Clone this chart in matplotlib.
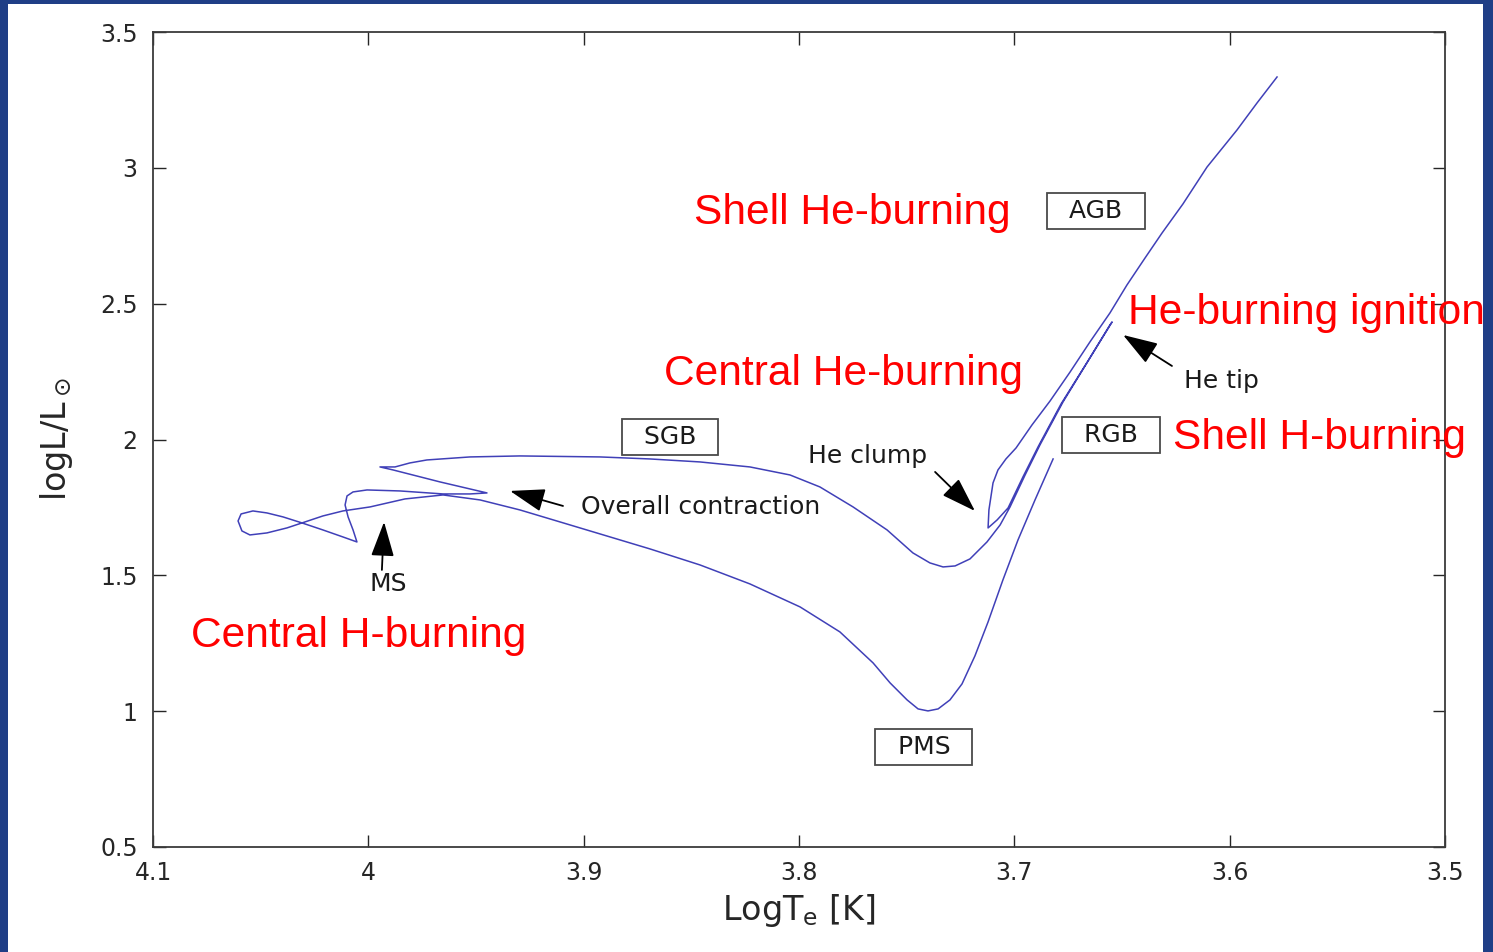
import matplotlib
matplotlib.use("Agg")
import matplotlib.pyplot as plt
from matplotlib.patches import Rectangle

# ---- evolutionary track of a low-mass star (log Teff, log L/Lsun), by phase ----
pms_logT = [3.6820, 3.6904, 3.6983, 3.7053, 3.7122, 3.7183, 3.7243, 3.7299, 3.7354,
            3.7401, 3.7447, 3.7498, 3.7577, 3.7656, 3.7810, 3.7995, 3.8228, 3.8460,
            3.8692, 3.8924, 3.9110, 3.9296, 3.9481, 3.9653, 3.9830, 3.9992, 4.0118,
            4.0211, 4.0308, 4.0378, 4.0471, 4.0550, 4.0587, 4.0605, 4.0591, 4.0536,
            4.0471, 4.0396, 4.0308, 4.0211, 4.0118, 4.0053]
pms_logL = [1.9284, 1.7775, 1.6303, 1.4831, 1.3285, 1.2034, 1.1003, 1.0414, 1.0083,
            1.0009, 1.0083, 1.0414, 1.1040, 1.1776, 1.2917, 1.3837, 1.4684, 1.5383,
            1.5972, 1.6524, 1.6966, 1.7407, 1.7775, 1.7959, 1.7812, 1.7518, 1.7370,
            1.7186, 1.6929, 1.6745, 1.6561, 1.6487, 1.6634, 1.7002, 1.7260, 1.7370,
            1.7297, 1.7150, 1.6929, 1.6671, 1.6413, 1.6229]

ms_logT = [4.0071, 4.0094, 4.0108, 4.0099, 4.0071, 4.0006, 3.9853, 3.9653, 3.9528, 3.9449]
ms_logL = [1.6671, 1.7150, 1.7591, 1.7922, 1.8070, 1.8143, 1.8106, 1.7996, 1.7996, 1.8033]

contraction_logT = [3.9667, 3.9885, 3.9946]
contraction_logL = [1.8438, 1.8879, 1.8990]

sgb_logT = [3.9876, 3.9807, 3.9728, 3.9528, 3.9296, 3.8924, 3.8692, 3.8460, 3.8228,
            3.8042, 3.7903, 3.7749, 3.7591, 3.7471, 3.7392, 3.7331, 3.7275, 3.7206,
            3.7127, 3.7066]
sgb_logL = [1.8990, 1.9137, 1.9247, 1.9358, 1.9395, 1.9358, 1.9284, 1.9174, 1.8990,
            1.8695, 1.8254, 1.7518, 1.6671, 1.5825, 1.5457, 1.5309, 1.5346, 1.5604,
            1.6229, 1.6855]

rgb_logT = [3.7020, 3.6950, 3.6881, 3.6774, 3.6649, 3.6546]
rgb_logL = [1.7518, 1.8695, 1.9800, 2.1382, 2.3002, 2.4327]

flash_logT = [3.6556, 3.6658, 3.6783, 3.6890, 3.6960, 3.7029, 3.7080, 3.7122]
flash_logL = [2.4216, 2.2891, 2.1309, 1.9726, 1.8622, 1.7481, 1.7039, 1.6745]

agb_logT = [3.7118, 3.7099, 3.7076, 3.7039, 3.6992, 3.6918, 3.6834, 3.6741, 3.6649,
            3.6556, 3.6477, 3.6393, 3.6314, 3.6217, 3.6105, 3.5966, 3.5873, 3.5780]
agb_logL = [1.7407, 1.8401, 1.8879, 1.9284, 1.9689, 2.0536, 2.1419, 2.2486, 2.3590,
            2.4658, 2.5688, 2.6682, 2.7602, 2.8670, 3.0031, 3.1393, 3.2387, 3.3344]

x_ticks = [4.1, 4.0, 3.9, 3.8, 3.7, 3.6, 3.5]
y_ticks = [0.5, 1.0, 1.5, 2.0, 2.5, 3.0, 3.5]

# phase labels in boxes: (text, logT, logL)
box_labels = [("AGB", 3.6621, 2.8412), ("SGB", 3.8599, 2.0094),
              ("RGB", 3.6551, 2.0168), ("PMS", 3.7420, 0.8684)]

# arrows: (text, text logT, text logL, tail logT, tail logL, head logT, head logL)
arrow_notes = [
    ("He tip", 3.6036, 2.2155, 3.6268, 2.2707, 3.6495, 2.3848),
    ("He clump", 3.7680, 1.9395, 3.7368, 1.8806, 3.7183, 1.7370),
    ("Overall contraction", 3.8455, 1.7518, 3.9096, 1.7554, 3.9342, 1.8107),
    ("MS", 3.9909, 1.4684, 3.9937, 1.5199, 3.9927, 1.6966),
]

# burning-stage captions: (text, left logT, baseline logL)
stage_notes = [
    ("Shell He-burning", 3.8488, 2.7933),
    ("He-burning ignition", 3.6472, 2.4253),
    ("Central He-burning", 3.8627, 2.2008),
    ("Shell H-burning", 3.6263, 1.9652),
    ("Central H-burning", 4.0824, 1.2365),
]

W, H = 1493, 952
fig = plt.figure(figsize=(W / 100, H / 100), dpi=100, facecolor="#1f3e86")
fig.patches.append(Rectangle((8 / W, 0), (1483 - 8) / W, (H - 4) / H,
                             transform=fig.transFigure, facecolor="white",
                             edgecolor="none", zorder=-5))

ax = fig.add_axes([153 / W, (H - 847) / H, (1445 - 153) / W, (847 - 32) / H])
ax.set_facecolor("white")

track_T = pms_logT + ms_logT + contraction_logT + sgb_logT + rgb_logT + flash_logT + agb_logT
track_L = pms_logL + ms_logL + contraction_logL + sgb_logL + rgb_logL + flash_logL + agb_logL
ax.plot(track_T, track_L, color="#4040b8", lw=1.1, solid_joinstyle="round")

ax.set_xlim(4.1, 3.5)
ax.set_ylim(0.5, 3.5)
ax.set_xticks(x_ticks)
ax.set_xticklabels([f"{v:g}" for v in x_ticks])
ax.set_yticks(y_ticks)
ax.set_yticklabels([f"{v:g}" for v in y_ticks])
ax.tick_params(direction="in", length=9, width=1.0, top=True, right=True,
               labelsize=17, colors="#262626")
ax.tick_params(axis="x", pad=10)
ax.tick_params(axis="y", pad=11)
for sp in ax.spines.values():
    sp.set_color("#3a3a3a")
    sp.set_linewidth(1.3)

ax.set_xlabel(r"LogT$_\mathregular{e}$ [K]", fontsize=24, color="#262626", labelpad=5)
ax.set_ylabel(r"logL/L$_\odot$", fontsize=24, color="#262626", labelpad=18)

for txt, t, l in box_labels:
    ax.text(t, l, f"  {txt}  ", ha="center", va="center", fontsize=18, color="#1a1a1a",
            bbox=dict(boxstyle="square,pad=0.25", facecolor="white",
                      edgecolor="#4a4a4a", linewidth=1.3))

for txt, tx, ly, t0, l0, t1, l1 in arrow_notes:
    ax.text(tx, ly, txt, ha="center", va="center", fontsize=18, color="#1a1a1a")
    ax.annotate("", xy=(t1, l1), xytext=(t0, l0),
                arrowprops=dict(arrowstyle="-|>,head_length=1.2,head_width=0.4",
                                color="black", lw=1.3, mutation_scale=18,
                                shrinkA=0, shrinkB=0))

for txt, t, l in stage_notes:
    ax.text(t, l, txt, ha="left", va="baseline", fontsize=30.6, color="#ff0000",
            family="Liberation Sans", clip_on=False)

fig.savefig("out.png", dpi=100, facecolor=fig.get_facecolor())
